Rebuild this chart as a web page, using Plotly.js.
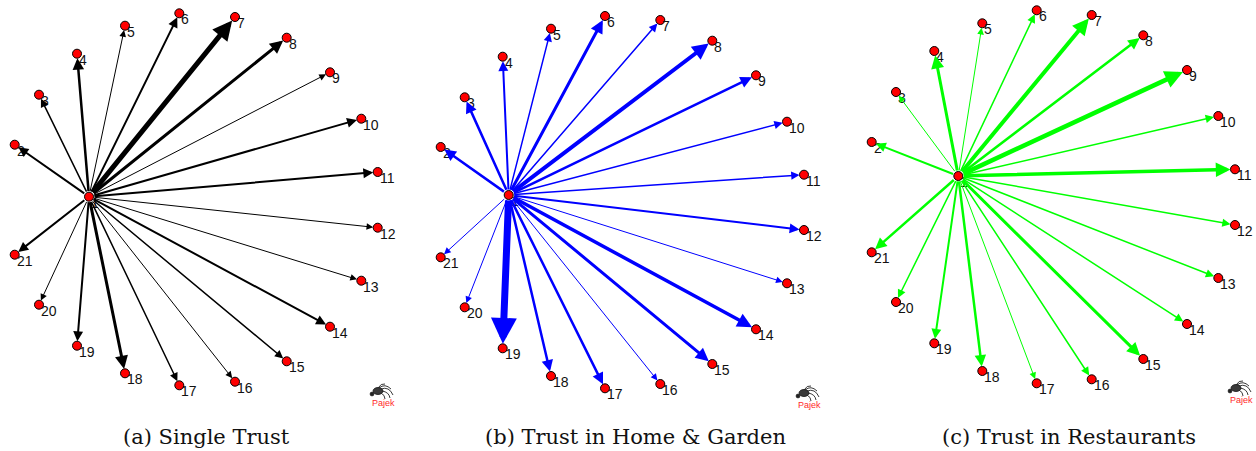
<!DOCTYPE html>
<html>
<head>
<meta charset="utf-8">
<script src="https://cdn.plot.ly/plotly-3.0.1.min.js"></script>
<style>html,body{margin:0;padding:0;background:#fff;overflow:hidden}</style>
</head>
<body>
<div id="chart" style="width:1256px;height:451px"></div>
<script>
// ---------- data ----------
const nodeIds = ['1','2','3','4','5','6','7','8','9','10','11','12','13','14','15','16','17','18','19','20','21'];
const edgeSource = 1;
const edgeTargets = [2,3,4,5,6,7,8,9,10,11,12,13,14,15,16,17,18,19,20,21];

// (a) Single Trust - node layout and edge weights
const singleX = [89, 14.7, 39, 77, 125, 179.3, 235, 286.7, 330, 361.3, 377.7, 377.7, 361.3, 330, 286.7, 235, 179.3, 125, 77, 39, 14.7];
const singleY = [196.7, 144.7, 94.7, 53.7, 25.7, 13.3, 17, 37.7, 72.3, 118.7, 172, 227.7, 280.7, 326.7, 361.3, 381.7, 385.3, 373.3, 345.7, 304.7, 254.7];
const singleWeights = [2, 1.5, 2.5, 1, 2, 5, 3, 1, 2, 2, 1, 1, 2, 1.5, 1, 1.5, 3, 2, 1, 2];

// (b) Trust in Home & Garden
const homeX = [88.7, 20.7, 44.7, 82.7, 131, 185, 240.3, 292.3, 336, 367, 384, 384, 367, 336, 292.3, 240.3, 185, 131, 82.7, 44.7, 20.7];
const homeY = [195, 147, 97.3, 56.7, 28.7, 16, 20, 40.7, 75.3, 121.7, 174.7, 230, 283.3, 329.3, 364, 384, 388.3, 376, 348.3, 307.3, 257.3];
const homeWeights = [2.5, 2.5, 2, 1.5, 3, 1.5, 4, 2.5, 1.5, 1.5, 2, 1, 3.5, 3, 1, 2.5, 2.5, 7, 1, 1];

// (c) Trust in Restaurants
const restX = [118.3, 31.7, 56, 94.3, 142.3, 196.7, 251.7, 303.3, 347, 378.3, 395, 395, 378.3, 347, 303.3, 251.7, 196.7, 142.3, 94.3, 56, 31.7];
const restY = [176, 142, 92, 51, 23.3, 10.3, 15, 35.3, 70, 116, 169.3, 225, 278, 324, 359, 379.3, 383.3, 371, 343.3, 302, 252.3];
const restWeights = [2, 1, 3, 1, 1.5, 4, 2.5, 4.5, 1.5, 3.5, 1.5, 1.5, 1.5, 3, 1.5, 1, 2.5, 2, 1.5, 2.5];

const panelTitles = ['(a) Single Trust', '(b) Trust in Home & Garden', '(c) Trust in Restaurants'];

// ---------- styling ----------
const W = 1256, H = 451, PW = 416;
const panelLeft = [0, 420, 840];
const titleCenters = [206, 635, 1069];
const edgeColors = ['#000000', '#0000ff', '#00ff00'];
const logoPos = [[380, 391], [386, 393], [398, 388]];

const panels = [
  {x: singleX, y: singleY, w: singleWeights},
  {x: homeX, y: homeY, w: homeWeights},
  {x: restX, y: restY, w: restWeights}
];

const traces = [];
const annotations = [];
const shapes = [];
const layout = {
  width: W, height: H,
  margin: {l: 0, r: 0, t: 0, b: 0},
  paper_bgcolor: '#ffffff', plot_bgcolor: 'rgba(0,0,0,0)',
  showlegend: false,
  annotations: annotations,
  shapes: shapes
};

panels.forEach((p, i) => {
  const sfx = i === 0 ? '' : String(i + 1);
  const xa = 'x' + sfx, ya = 'y' + sfx;
  layout['xaxis' + sfx] = {domain: [panelLeft[i] / W, (panelLeft[i] + PW) / W], range: [0, PW],
    visible: false, fixedrange: true, anchor: ya};
  layout['yaxis' + sfx] = {domain: [0, 1], range: [H, 0], visible: false, fixedrange: true, anchor: xa};

  // node labels (below edges)
  nodeIds.forEach((lab, k) => {
    annotations.push({xref: xa, yref: ya, x: p.x[k], y: p.y[k], text: lab, showarrow: false,
      xanchor: 'left', yanchor: 'middle', xshift: 1, yshift: -6, borderpad: 0,
      font: {family: 'Liberation Sans, Arial, sans-serif', size: 14, color: '#111111'}});
  });

  // edges
  const s = edgeSource - 1;
  edgeTargets.forEach((t, k) => {
    const w = p.w[k];
    annotations.push({xref: xa, yref: ya, axref: xa, ayref: ya,
      x: p.x[t - 1], y: p.y[t - 1], ax: p.x[s], ay: p.y[s], text: '',
      showarrow: true, arrowhead: 2, arrowwidth: w, arrowsize: (3.5 + 3.2 * w) / (5 * w),
      arrowcolor: edgeColors[i], standoff: 4.5, startstandoff: 4});
  });

  // nodes
  traces.push({type: 'scatter', mode: 'markers', x: p.x, y: p.y, xaxis: xa, yaxis: ya,
    hoverinfo: 'skip', cliponaxis: false,
    marker: {size: 9, color: '#ff0000', line: {color: '#000000', width: 1}}});

  // panel caption
  annotations.push({xref: 'paper', yref: 'paper', x: titleCenters[i] / W, y: 1 - 437 / H,
    xanchor: 'center', yanchor: 'middle', showarrow: false, text: panelTitles[i],
    font: {family: 'DejaVu Serif, Liberation Serif, serif', size: 21, color: '#111111'}});

  // Pajek logo
  const [cx, cy] = logoPos[i];
  shapes.push({type: 'circle', xref: xa, yref: ya, x0: cx - 7, x1: cx + 3, y0: cy - 3.5, y1: cy + 3.5,
    fillcolor: '#3a3a3a', line: {color: '#111', width: 0.8}});
  shapes.push({type: 'circle', xref: xa, yref: ya, x0: cx - 10, x1: cx - 6, y0: cy + 1, y1: cy + 5,
    fillcolor: '#222', line: {color: '#111', width: 0.5}});
  const legs = [
    `M ${cx-1},${cy-3} Q ${cx+5},${cy-8} ${cx+11},${cy-2}`,
    `M ${cx+1},${cy-2} Q ${cx+9},${cy-5} ${cx+13},${cy+4}`,
    `M ${cx+2},${cy} Q ${cx+9},${cy+1} ${cx+10},${cy+7}`,
    `M ${cx+1},${cy+2} Q ${cx+5},${cy+4} ${cx+5},${cy+8}`,
    `M ${cx-2},${cy-3} Q ${cx+1},${cy-8} ${cx+5},${cy-7}`
  ];
  legs.forEach(d => shapes.push({type: 'path', xref: xa, yref: ya, path: d,
    line: {color: '#222', width: 0.9}}));
  annotations.push({xref: xa, yref: ya, x: cx + 3, y: cy + 12, text: 'Pajek', showarrow: false,
    xanchor: 'center', yanchor: 'middle',
    font: {family: 'Liberation Sans, Arial, sans-serif', size: 9, color: '#ff2a2a'}});
});

Plotly.newPlot('chart', traces, layout, {staticPlot: true, displayModeBar: false});
</script>
</body>
</html>
